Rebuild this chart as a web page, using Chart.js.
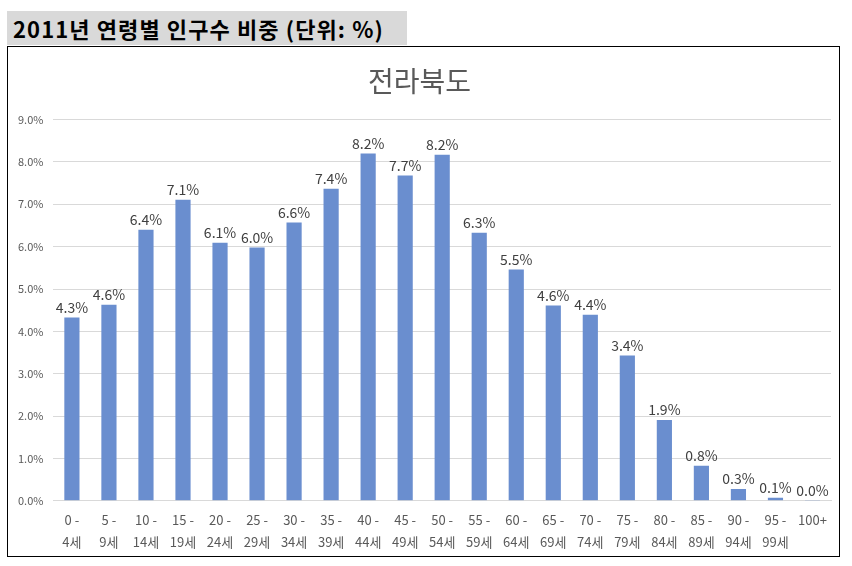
<!DOCTYPE html>
<html>
<head>
<meta charset="utf-8">
<script src="https://cdn.jsdelivr.net/npm/chart.js@4"></script>
<style>
  body { margin: 0; background: #fff; font-family: "Noto Sans CJK KR", sans-serif; }
  #heading {
    position: absolute; left: 7px; top: 11px; width: 400px; height: 34px;
    background: #d9d9d9; font-weight: bold; font-size: 22px; line-height: 34px;
    padding-left: 6px; box-sizing: border-box; color: #000; letter-spacing: 1.1px;
  }
  #box {
    position: absolute; left: 7px; top: 46px; width: 833px; height: 511px;
    border: 1.5px solid #000; box-sizing: border-box;
  }
</style>
</head>
<body>
<div id="heading">2011년 연령별 인구수 비중 (단위: %)</div>
<div id="box"><canvas id="myChart"></canvas></div>
<script>
// age groups (two-line labels)
const ageLabels = [
    ["0 -", "4세"], ["5 -", "9세"], ["10 -", "14세"], ["15 -", "19세"], ["20 -", "24세"],
    ["25 -", "29세"], ["30 -", "34세"], ["35 -", "39세"], ["40 -", "44세"], ["45 -", "49세"],
    ["50 -", "54세"], ["55 -", "59세"], ["60 -", "64세"], ["65 -", "69세"], ["70 -", "74세"],
    ["75 -", "79세"], ["80 -", "84세"], ["85 -", "89세"], ["90 -", "94세"], ["95 -", "99세"],
    ["100+", ""]
];

// share of population, %
const shares = [4.33, 4.63, 6.40, 7.11, 6.09, 5.98, 6.57, 7.37, 8.20, 7.68,
                8.17, 6.33, 5.46, 4.61, 4.39, 3.43, 1.91, 0.83, 0.28, 0.07, 0.01];

const chartTitle = "전라북도";
const yMax = 9;

// draws the value above each bar
const valueLabels = {
    id: "valueLabels",
    afterDatasetsDraw(chart) {
        const ctx = chart.ctx;
        const meta = chart.getDatasetMeta(0);
        ctx.save();
        ctx.font = '14px "Noto Sans CJK KR", sans-serif';
        ctx.fillStyle = "#404040";
        ctx.textAlign = "center";
        ctx.textBaseline = "bottom";
        meta.data.forEach((bar, i) => {
            ctx.fillText(shares[i].toFixed(1) + "%", bar.x, bar.y - 3);
        });
        ctx.restore();
    }
};

const ctx = document.getElementById("myChart").getContext("2d");
new Chart(ctx, {
    type: "bar",
    data: {
        labels: ageLabels,
        datasets: [{
            data: shares,
            backgroundColor: "#6a8ecf",
            barPercentage: 0.41,
            categoryPercentage: 1.0
        }]
    },
    options: {
        responsive: true,
        maintainAspectRatio: false,
        animation: false,
        layout: { padding: { left: 0, right: 8, top: 8, bottom: 3 } },
        plugins: {
            legend: { display: false },
            tooltip: { enabled: false },
            title: {
                display: true,
                text: chartTitle,
                color: "#595959",
                font: { size: 28, family: '"Noto Sans CJK KR", sans-serif', weight: "normal" },
                padding: { top: 10, bottom: 21 }
            }
        },
        scales: {
            y: {
                min: 0, max: yMax,
                ticks: {
                    stepSize: 1,
                    color: "#595959",
                    font: { size: 11, family: '"Noto Sans CJK KR", sans-serif' },
                    padding: 10,
                    callback: v => v.toFixed(1) + "%"
                },
                grid: { color: "#d9d9d9", drawTicks: false },
                border: { display: false }
            },
            x: {
                ticks: {
                    color: "#595959",
                    font: { size: 13, family: '"Noto Sans CJK KR", sans-serif', lineHeight: 1.7 },
                    maxRotation: 0, autoSkip: false, padding: 0
                },
                grid: { display: false },
                border: { color: "#d9d9d9" }
            }
        }
    },
    plugins: [valueLabels]
});
</script>
</body>
</html>
